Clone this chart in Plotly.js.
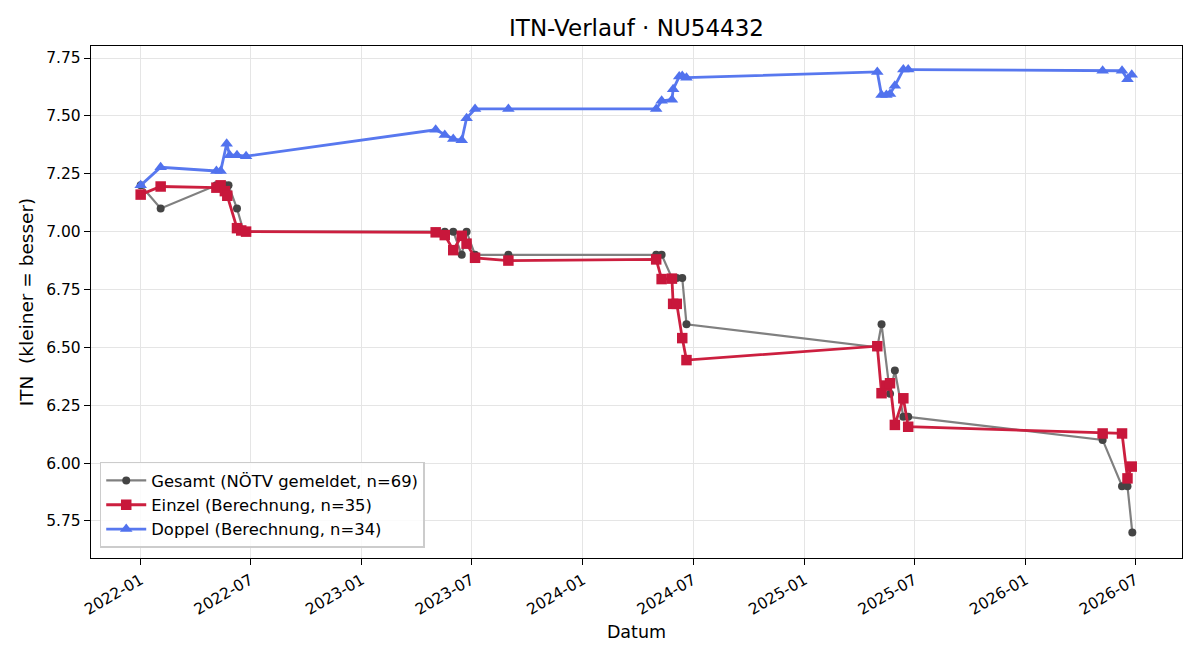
<!DOCTYPE html>
<html>
<head>
<meta charset="utf-8">
<script src="https://cdn.plot.ly/plotly-3.0.1.min.js"></script>
<style>html,body{margin:0;padding:0;background:#fff;}#chart{width:1200px;height:660px;}</style>
</head>
<body>
<div id="chart"></div>
<script>
// Gesamt (NÖTV gemeldet)
const gesamtDates = ["2022-01-01","2022-02-03","2022-05-06","2022-05-20","2022-05-26","2022-06-09","2022-06-20",
  "2023-05-03","2023-05-18","2023-06-01","2023-06-15","2023-06-23","2023-07-07","2023-08-31",
  "2024-05-01","2024-05-10","2024-05-27","2024-06-04","2024-06-13","2024-06-20",
  "2025-05-01","2025-05-08","2025-05-22","2025-05-30","2025-06-13","2025-06-21",
  "2026-05-08","2026-06-09","2026-06-18","2026-06-26"];
const gesamtValues = [7.2,7.1,7.2,7.2,7.2,7.1,7.0,
  7.0,7.0,7.0,6.9,7.0,6.9,6.9,
  6.9,6.9,6.8,6.8,6.8,6.6,
  6.5,6.6,6.3,6.4,6.2,6.2,
  6.1,5.9,5.9,5.7];

// Einzel (Berechnung)
const einzelDates = ["2022-01-01","2022-02-03","2022-05-06","2022-05-13","2022-05-20","2022-05-24","2022-06-09","2022-06-16","2022-06-24",
  "2023-05-03","2023-05-18","2023-06-01","2023-06-15","2023-06-23","2023-07-07","2023-08-31",
  "2024-05-01","2024-05-10","2024-05-27","2024-05-29","2024-06-04","2024-06-13","2024-06-20",
  "2025-05-01","2025-05-08","2025-05-16","2025-05-22","2025-05-30","2025-06-13","2025-06-21",
  "2026-05-08","2026-06-09","2026-06-18","2026-06-25"];
const einzelValues = [7.16,7.195,7.19,7.2,7.175,7.155,7.015,7.005,7.0,
  6.997,6.985,6.92,6.982,6.948,6.887,6.875,
  6.88,6.795,6.797,6.688,6.688,6.54,6.445,
  6.505,6.302,6.335,6.345,6.165,6.28,6.157,
  6.128,6.128,5.934,5.985];

// Doppel (Berechnung)
const doppelDates = ["2022-01-01","2022-02-03","2022-05-06","2022-05-13","2022-05-23","2022-05-28","2022-06-09","2022-06-24",
  "2023-05-03","2023-05-18","2023-06-01","2023-06-15","2023-06-23","2023-07-07","2023-08-31",
  "2024-05-01","2024-05-10","2024-05-27","2024-05-29","2024-06-08","2024-06-13","2024-06-20",
  "2025-05-01","2025-05-08","2025-05-16","2025-05-22","2025-05-30","2025-06-13","2025-06-21",
  "2026-05-08","2026-06-09","2026-06-18","2026-06-25"];
const doppelValues = [7.2,7.278,7.262,7.262,7.38,7.33,7.33,7.326,
  7.44,7.418,7.40,7.395,7.49,7.53,7.53,
  7.53,7.565,7.57,7.615,7.67,7.672,7.665,
  7.69,7.59,7.59,7.595,7.63,7.70,7.70,
  7.695,7.695,7.658,7.678];

const titleText = "ITN-Verlauf · NU54432";

const traces = [
  {x: gesamtDates, y: gesamtValues, mode: "lines+markers", name: "Gesamt (NÖTV gemeldet, n=69)",
   line: {color: "#808080", width: 2.2}, marker: {symbol: "circle", size: 8, color: "#444444"}},
  {x: einzelDates, y: einzelValues, mode: "lines+markers", name: "Einzel (Berechnung, n=35)",
   line: {color: "#cc1f3f", width: 2.8}, marker: {symbol: "square", size: 10.5, color: "#c8173b"}},
  {x: doppelDates, y: doppelValues, mode: "lines+markers", name: "Doppel (Berechnung, n=34)",
   line: {color: "#5878ef", width: 2.8}, marker: {symbol: "triangle-up", size: 11, color: "#5172ee"}}
];

const layout = {
  width: 1200, height: 660,
  margin: {l: 91, r: 18, t: 46, b: 102},
  paper_bgcolor: "#fff", plot_bgcolor: "#fff",
  font: {family: "DejaVu Sans", size: 15, color: "#000"},
  title: {text: titleText, xref: "paper", x: 0.5, xanchor: "center", y: 0.957, yanchor: "middle",
          font: {family: "DejaVu Sans", size: 23, color: "#000"}},
  showlegend: true,
  legend: {x: 0.008, y: 0.02, xanchor: "left", yanchor: "bottom",
           bgcolor: "rgba(255,255,255,0.85)", bordercolor: "#cccccc", borderwidth: 1.5,
           font: {family: "DejaVu Sans", size: 16.4}, tracegroupgap: 0, itemwidth: 40},
  xaxis: {
    type: "date", range: ["2021-10-11", "2026-09-16"],
    tick0: "2022-01-01", dtick: "M6", tickformat: "%Y-%m", tickangle: -30,
    ticks: "outside", ticklen: 6, tickcolor: "#000",
    showgrid: true, gridcolor: "#e5e5e5", gridwidth: 1,
    showline: true, linecolor: "#000", linewidth: 1.2, mirror: true, zeroline: false,
    title: {text: "Datum", font: {size: 17.5}, standoff: 8},
    tickfont: {size: 15.5}
  },
  yaxis: {
    range: [5.59, 7.802], tick0: 5.75, dtick: 0.25, tickformat: ".2f",
    ticks: "outside", ticklen: 6, tickcolor: "#000",
    showgrid: true, gridcolor: "#e5e5e5", gridwidth: 1,
    showline: true, linecolor: "#000", linewidth: 1.2, mirror: true, zeroline: false,
    title: {text: "ITN\u00a0 (kleiner = besser)", font: {size: 18.5}, standoff: 7},
    tickfont: {size: 15.5}
  }
};

Plotly.newPlot("chart", traces, layout, {displayModeBar: false, staticPlot: true});
</script>
</body>
</html>
